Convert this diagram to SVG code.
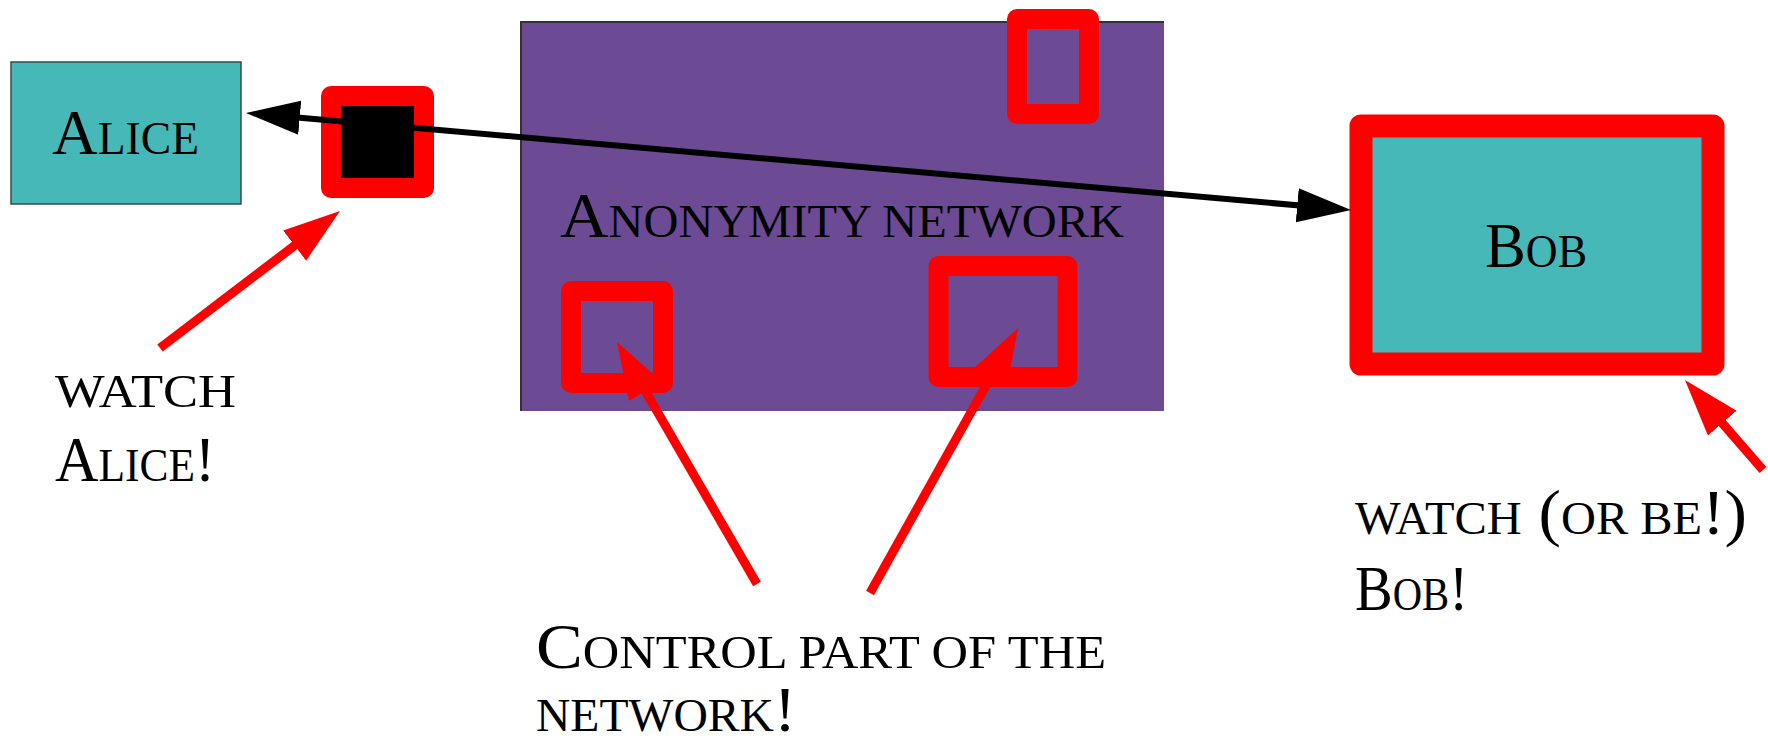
<svg xmlns="http://www.w3.org/2000/svg" width="1768" height="745" viewBox="0 0 1768 745">
<style>
  .lbl { font-family: "Liberation Serif", "DejaVu Serif", serif; font-size: 64px; fill: #000; }
  .sc { font-size: 46px; text-transform: uppercase; }
  .redbox { fill: none; stroke: #FF0000; stroke-width: 20; stroke-linejoin: round; }
  .redarrow { stroke: #FF0000; stroke-width: 9; fill: none; marker-end: url(#redhead); }
</style>
<defs>
  <marker id="blackhead" markerUnits="userSpaceOnUse" orient="auto-start-reverse" markerWidth="56" markerHeight="36" refX="14" refY="17" viewBox="0 0 56 36">
    <path d="M0,0 L54,17 L0,34 z" fill="#000"/>
  </marker>
  <marker id="redhead" markerUnits="userSpaceOnUse" orient="auto" markerWidth="58" markerHeight="40" refX="27" refY="19" viewBox="0 0 58 40">
    <path d="M0,0 L57,19 L0,38 z" fill="#FF0000"/>
  </marker>
</defs>

<g id="network">
  <rect x="521" y="22" width="643" height="389" fill="#6C4A94"/>
  <path d="M521,411 V22 H1164" fill="none" stroke="#333" stroke-width="2"/>
  <text class="lbl" x="560" y="237" textLength="564" lengthAdjust="spacingAndGlyphs">A<tspan class="sc">nonymity network</tspan></text>
</g>

<g id="alice">
  <rect x="11" y="62" width="230" height="142" fill="#47B8B8" stroke="#3a4a4a" stroke-width="1.5"/>
  <text class="lbl" x="52" y="154" textLength="147" lengthAdjust="spacingAndGlyphs">A<tspan class="sc">lice</tspan></text>
</g>

<g id="bob">
  <rect x="1361" y="126" width="352" height="238" fill="#47B8B8" stroke="#FF0000" stroke-width="23" stroke-linejoin="round"/>
  <text class="lbl" x="1485" y="267" textLength="102" lengthAdjust="spacingAndGlyphs">B<tspan class="sc">ob</tspan></text>
</g>

<g id="observer-alice">
  <rect x="331" y="96" width="93" height="92" fill="#000" stroke="#FF0000" stroke-width="20" stroke-linejoin="round"/>
</g>

<g id="node-top">
  <rect class="redbox" x="1017" y="19" width="72" height="95"/>
</g>
<g id="node-left">
  <rect class="redbox" x="571" y="291" width="92" height="92"/>
</g>
<g id="node-right">
  <rect class="redbox" x="938.5" y="266" width="129" height="111"/>
</g>

<g id="connectors">
  <line x1="285.8" y1="116.5" x2="1311.2" y2="206.5" stroke="#000" stroke-width="6" marker-start="url(#blackhead)" marker-end="url(#blackhead)"/>
  <line class="redarrow" x1="160" y1="348" x2="316.1" y2="229.2"/>
  <line class="redarrow" x1="757" y1="584" x2="632" y2="368"/>
  <line class="redarrow" x1="870" y1="593" x2="1003.4" y2="354.2"/>
  <line class="redarrow" x1="1763" y1="470" x2="1704.6" y2="402.7"/>
</g>

<g id="label-alice">
  <text class="lbl sc" x="55" y="407" textLength="181" lengthAdjust="spacingAndGlyphs">watch</text>
  <text class="lbl" x="55" y="481" textLength="160" lengthAdjust="spacingAndGlyphs">A<tspan class="sc">lice</tspan>!</text>
</g>
<g id="label-control">
  <text class="lbl" x="536" y="668" textLength="570" lengthAdjust="spacingAndGlyphs">C<tspan class="sc">ontrol part of the</tspan></text>
  <text class="lbl" x="536" y="731" textLength="260" lengthAdjust="spacingAndGlyphs"><tspan class="sc">network</tspan>!</text>
</g>
<g id="label-bob">
  <text class="lbl" x="1355" y="534" textLength="392" lengthAdjust="spacingAndGlyphs"><tspan class="sc">watch</tspan> (<tspan class="sc">or be</tspan>!)</text>
  <text class="lbl" x="1355" y="610" textLength="113" lengthAdjust="spacingAndGlyphs">B<tspan class="sc">ob</tspan>!</text>
</g>
</svg>
